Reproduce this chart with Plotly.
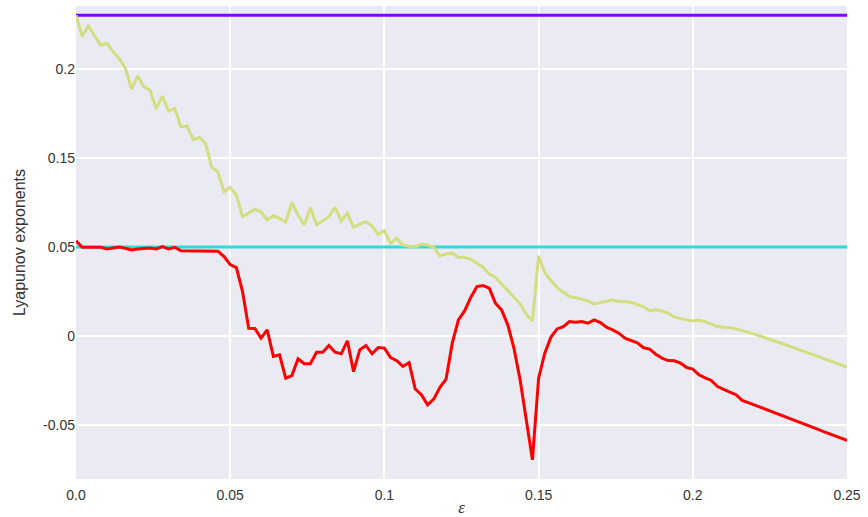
import numpy as np
import plotly.graph_objects as go

# x grid: epsilon from 0 to 0.25 in steps of 0.002
eps = np.round(np.arange(126) * 0.002, 4)

# Lyapunov exponents (axis units)
le_purple = [0.1803] * 126
le_cyan = [0.05] * 126

le_green = [
    0.1803, 0.1685, 0.1742, 0.1691, 0.1635, 0.1646, 0.1597, 0.1560, 0.1506, 0.1388,
    0.1461, 0.1401, 0.1382, 0.1277, 0.1348, 0.1264, 0.1279, 0.1176, 0.1180, 0.1105,
    0.1116, 0.1083, 0.0948, 0.0923, 0.0811, 0.0835, 0.0792, 0.0670, 0.0693, 0.0712,
    0.0698, 0.0652, 0.0676, 0.0661, 0.0639, 0.0751, 0.0680, 0.0624, 0.0721, 0.0624,
    0.0648, 0.0670, 0.0723, 0.0646, 0.0689, 0.0611, 0.0629, 0.0642, 0.0618, 0.0571,
    0.0592, 0.0519, 0.0549, 0.0510, 0.0504, 0.0500, 0.0515, 0.0511, 0.0498, 0.0449,
    0.0461, 0.0466, 0.0442, 0.0442, 0.0431, 0.0408, 0.0386, 0.0347, 0.0330, 0.0292,
    0.0254, 0.0217, 0.0180, 0.0122, 0.0084, 0.0449, 0.0356, 0.0311, 0.0271, 0.0246,
    0.0221, 0.0215, 0.0208, 0.0197, 0.0180, 0.0187, 0.0198, 0.0202, 0.0193, 0.0193,
    0.0188, 0.0177, 0.0165, 0.0140, 0.0146, 0.0140, 0.0128, 0.0105, 0.0096, 0.0090,
    0.0084, 0.0088, 0.0080, 0.0067, 0.0052, 0.0049, 0.0047, 0.0039, 0.0030, 0.0020,
    0.0010, -0.0002, -0.0013, -0.0025, -0.0038, -0.0050, -0.0062, -0.0075, -0.0087, -0.0099,
    -0.0112, -0.0124, -0.0137, -0.0149, -0.0162, -0.0176,
]

le_red = [
    0.0534, 0.0498, 0.0498, 0.0498, 0.0498, 0.0489, 0.0493, 0.0500, 0.0493, 0.0483,
    0.0489, 0.0490, 0.0494, 0.0489, 0.0502, 0.0489, 0.0498, 0.0479, 0.0479, 0.0476,
    0.0479, 0.0479, 0.0476, 0.0476, 0.0446, 0.0401, 0.0384, 0.0249, 0.0043, 0.0041,
    -0.0013, 0.0034, -0.0116, -0.0107, -0.0238, -0.0223, -0.0129, -0.0157, -0.0157, -0.0092,
    -0.0092, -0.0054, -0.0092, -0.0101, -0.0028, -0.0201, -0.0079, -0.0054, -0.0101, -0.0066,
    -0.0069, -0.0122, -0.0140, -0.0172, -0.0150, -0.0299, -0.0331, -0.0388, -0.0356, -0.0289,
    -0.0243, -0.0041, 0.0090, 0.0140, 0.0216, 0.0277, 0.0283, 0.0268, 0.0184, 0.0146,
    0.0062, -0.0069, -0.0247, -0.0472, -0.0697, -0.0238, -0.0097, -0.0007, 0.0039, 0.0052,
    0.0080, 0.0077, 0.0080, 0.0071, 0.0090, 0.0075, 0.0049, 0.0034, 0.0015, -0.0013,
    -0.0025, -0.0039, -0.0066, -0.0075, -0.0103, -0.0125, -0.0139, -0.0140, -0.0153, -0.0178,
    -0.0187, -0.0219, -0.0236, -0.0251, -0.0285, -0.0303, -0.0317, -0.0331, -0.0363, -0.0375,
    -0.0388, -0.0401, -0.0415, -0.0428, -0.0442, -0.0455, -0.0469, -0.0482, -0.0496, -0.0509,
    -0.0522, -0.0536, -0.0549, -0.0563, -0.0576, -0.0588,
]

x_tickvals = [0.0, 0.05, 0.1, 0.15, 0.2, 0.25]
x_ticktext = ["0.0", "0.05", "0.1", "0.15", "0.2", "0.25"]
y_tickvals = [-0.05, 0.0, 0.05, 0.1, 0.15]
y_ticktext = ["-0.05", "0", "0.05", "0.15", "0.2"]

series = [
    (le_purple, "#8000ff"),
    (le_cyan, "#2adddd"),
    (le_green, "#d4dd7f"),
    (le_red, "#ff0000"),
]

fig = go.Figure()
for ys, col in series:
    fig.add_trace(go.Scatter(x=eps, y=ys, mode="lines",
                             line=dict(color=col, width=3), showlegend=False))

fig.update_layout(
    width=868, height=517,
    margin=dict(l=76, r=21, t=6, b=38),
    paper_bgcolor="white",
    plot_bgcolor="#eaeaf2",
    font=dict(family="Liberation Sans, Arial, sans-serif", size=14, color="#333333"),
    showlegend=False,
)
fig.update_xaxes(
    range=[0, 0.25], tickvals=x_tickvals, ticktext=x_ticktext,
    ticklabelstandoff=6, automargin=False,
    showgrid=True, gridcolor="white", gridwidth=1.5, zeroline=False, showline=False,
    title=dict(text="<i>ε</i>", font=dict(family="Liberation Serif, serif", size=17), standoff=1),
)
fig.update_yaxes(
    range=[-0.0805, 0.1855], tickvals=y_tickvals, ticktext=y_ticktext,
    automargin=False,
    showgrid=True, gridcolor="white", gridwidth=1.5, zeroline=False, showline=False,
    title=dict(text="Lyapunov exponents", font=dict(size=16), standoff=13),
)

fig.write_html("out.html", config={"displayModeBar": False},
               post_script="document.body.style.margin='0';")
